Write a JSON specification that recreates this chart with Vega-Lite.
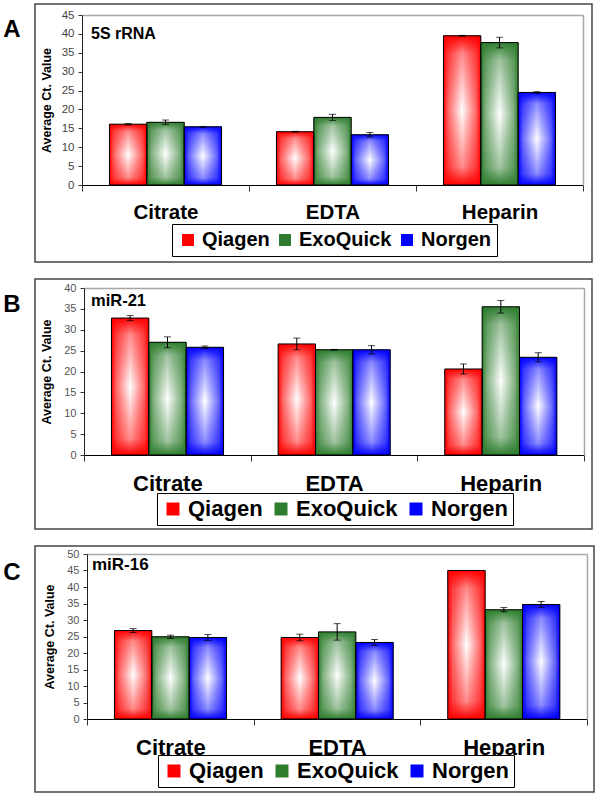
{
  "$schema": "https://vega.github.io/schema/vega-lite/v6.json",
  "background": "white",
  "padding": {"left": 2, "top": 3, "right": 0, "bottom": 0},
  "spacing": 15,
  "config": {
    "font": "Liberation Sans",
    "view": {"stroke": "#444", "strokeWidth": 1.5}
  },
  "resolve": {"scale": {"color": "independent"}, "legend": {"color": "independent"}},
  "datasets": {
    "a": [
      {"group": "Citrate", "method": "Qiagen", "value": 16.1, "lo": 15.9, "hi": 16.3},
      {"group": "Citrate", "method": "ExoQuick", "value": 16.6, "lo": 16.0, "hi": 17.2},
      {"group": "Citrate", "method": "Norgen", "value": 15.4, "lo": 15.3, "hi": 15.5},
      {"group": "EDTA", "method": "Qiagen", "value": 14.1, "lo": 14.0, "hi": 14.2},
      {"group": "EDTA", "method": "ExoQuick", "value": 17.9, "lo": 17.1, "hi": 18.7},
      {"group": "EDTA", "method": "Norgen", "value": 13.3, "lo": 12.7, "hi": 13.9},
      {"group": "Heparin", "method": "Qiagen", "value": 39.5, "lo": 39.4, "hi": 39.6},
      {"group": "Heparin", "method": "ExoQuick", "value": 37.7, "lo": 36.3, "hi": 39.1},
      {"group": "Heparin", "method": "Norgen", "value": 24.5, "lo": 24.3, "hi": 24.7}
    ],
    "b": [
      {"group": "Citrate", "method": "Qiagen", "value": 32.8, "lo": 32.2, "hi": 33.4},
      {"group": "Citrate", "method": "ExoQuick", "value": 27.0, "lo": 25.7, "hi": 28.3},
      {"group": "Citrate", "method": "Norgen", "value": 25.8, "lo": 25.5, "hi": 26.1},
      {"group": "EDTA", "method": "Qiagen", "value": 26.6, "lo": 25.2, "hi": 28.0},
      {"group": "EDTA", "method": "ExoQuick", "value": 25.2, "lo": 25.1, "hi": 25.3},
      {"group": "EDTA", "method": "Norgen", "value": 25.2, "lo": 24.2, "hi": 26.2},
      {"group": "Heparin", "method": "Qiagen", "value": 20.6, "lo": 19.4, "hi": 21.8},
      {"group": "Heparin", "method": "ExoQuick", "value": 35.5, "lo": 34.0, "hi": 37.0},
      {"group": "Heparin", "method": "Norgen", "value": 23.4, "lo": 22.3, "hi": 24.5}
    ],
    "c": [
      {"group": "Citrate", "method": "Qiagen", "value": 26.8, "lo": 26.2, "hi": 27.4},
      {"group": "Citrate", "method": "ExoQuick", "value": 24.9, "lo": 24.4, "hi": 25.4},
      {"group": "Citrate", "method": "Norgen", "value": 24.7, "lo": 23.8, "hi": 25.6},
      {"group": "EDTA", "method": "Qiagen", "value": 24.7, "lo": 23.7, "hi": 25.7},
      {"group": "EDTA", "method": "ExoQuick", "value": 26.4, "lo": 23.9, "hi": 28.9},
      {"group": "EDTA", "method": "Norgen", "value": 23.2, "lo": 22.3, "hi": 24.1},
      {"group": "Heparin", "method": "Qiagen", "value": 45.0, "lo": null, "hi": null},
      {"group": "Heparin", "method": "ExoQuick", "value": 33.1, "lo": 32.5, "hi": 33.8},
      {"group": "Heparin", "method": "Norgen", "value": 34.7, "lo": 33.8, "hi": 35.6}
    ]
  },
  "vconcat": [
    {
      "title": {"text": "A", "orient": "left", "anchor": "end", "angle": 0, "align": "right", "baseline": "top", "fontSize": 24, "fontWeight": "bold", "font": "Liberation Sans", "color": "black", "offset": -3, "dy": 14},
      "width": 557,
      "height": 258,
      "data": {"name": "a"},
      "resolve": {"axis": {"x": "independent", "y": "independent"}},
      "layer": [
        {
          "mark": {"type": "bar"},
          "encoding": {
            "x": {"field": "group", "type": "nominal", "scale": {"domain": ["Citrate", "EDTA", "Heparin"], "range": [47, 548], "paddingInner": 0, "paddingOuter": 0},
              "axis": {"orient": "bottom", "offset": -77, "title": null, "labelAngle": 0, "labelFont": "Liberation Sans", "labelFontSize": 20.5, "labelFontWeight": "bold", "labelColor": "black", "labelPadding": 11.5, "labelBaseline": "top", "tickBand": "extent", "tickSize": 6, "tickColor": "#333", "domainColor": "black", "domainWidth": 1}},
            "xOffset": {"field": "method", "type": "nominal", "scale": {"domain": ["Qiagen", "ExoQuick", "Norgen"], "paddingInner": 0, "paddingOuter": 0.735}},
            "y": {"field": "value", "type": "quantitative", "scale": {"domain": [0, 45], "range": [181, 11], "nice": false},
              "axis": {"orient": "left", "offset": -47, "values": [0, 5, 10, 15, 20, 25, 30, 35, 40, 45], "title": "Average Ct. Value", "titleFont": "Liberation Sans", "titleFontSize": 12.5, "titleFontWeight": "bold", "titleColor": "black", "titlePadding": 8, "labelFont": "Liberation Sans", "labelFontSize": 11.5, "labelColor": "#444", "labelPadding": 4, "tickSize": 4, "tickColor": "#333", "domainColor": "#222", "grid": false}},
            "color": {"field": "method", "type": "nominal", "scale": {"domain": ["Qiagen", "ExoQuick", "Norgen"], "range": ["#ff0000", "#2e7d2e", "#0000ff"]},
              "legend": {"orient": "none", "legendX": 137, "legendY": 220, "direction": "horizontal", "title": null, "labelFont": "Liberation Sans", "labelFontSize": 20, "labelFontWeight": "bold", "labelColor": "black", "symbolType": "square", "symbolSize": 144, "symbolStrokeColor": "black", "symbolStrokeWidth": 1, "symbolOpacity": 1, "strokeColor": "black", "fillColor": "white", "padding": 6, "columnPadding": 5, "labelOffset": 4,
                "encode": {"symbols": {"update": {"fill": {"signal": "datum.value === 'Qiagen' ? {gradient: 'linear', x1: 0, y1: 0, x2: 1, y2: 0, stops: [{offset: 0, color: '#ff0000'}, {offset: 0.5, color: '#ffffff'}, {offset: 1, color: '#ff0000'}]} : datum.value === 'ExoQuick' ? {gradient: 'linear', x1: 0, y1: 0, x2: 1, y2: 0, stops: [{offset: 0, color: '#2e7d2e'}, {offset: 0.5, color: '#ffffff'}, {offset: 1, color: '#2e7d2e'}]} : {gradient: 'linear', x1: 0, y1: 0, x2: 1, y2: 0, stops: [{offset: 0, color: '#0000ff'}, {offset: 0.5, color: '#ffffff'}, {offset: 1, color: '#0000ff'}]}"}}}}}}
          }
        },
        {
          "mark": {"type": "bar"},
          "encoding": {
            "x": {"field": "group", "type": "nominal", "axis": null},
            "xOffset": {"field": "method", "type": "nominal"},
            "y": {"field": "value", "type": "quantitative", "axis": null},
            "fill": {"condition": [
              {"test": "datum.method === 'Qiagen'", "value": {"gradient": "linear", "x1": 0, "y1": 0, "x2": 1, "y2": 0, "stops": [{"offset": 0, "color": "#ff0000"}, {"offset": 0.12, "color": "#ff6666"}, {"offset": 0.5, "color": "#ffffff"}, {"offset": 0.88, "color": "#ff6666"}, {"offset": 1, "color": "#ff0000"}]}},
              {"test": "datum.method === 'ExoQuick'", "value": {"gradient": "linear", "x1": 0, "y1": 0, "x2": 1, "y2": 0, "stops": [{"offset": 0, "color": "#2e7d2e"}, {"offset": 0.12, "color": "#82b182"}, {"offset": 0.5, "color": "#ffffff"}, {"offset": 0.88, "color": "#82b182"}, {"offset": 1, "color": "#2e7d2e"}]}}
            ], "value": {"gradient": "linear", "x1": 0, "y1": 0, "x2": 1, "y2": 0, "stops": [{"offset": 0, "color": "#0000ff"}, {"offset": 0.12, "color": "#6666ff"}, {"offset": 0.5, "color": "#ffffff"}, {"offset": 0.88, "color": "#6666ff"}, {"offset": 1, "color": "#0000ff"}]}}
          }
        },
        {
          "mark": {"type": "bar", "stroke": "black", "strokeWidth": 1},
          "encoding": {
            "x": {"field": "group", "type": "nominal", "axis": {"orient": "top", "offset": -11, "labels": false, "ticks": false, "title": null, "domainColor": "#a6a6a6", "domainWidth": 1.5}},
            "xOffset": {"field": "method", "type": "nominal"},
            "y": {"field": "value", "type": "quantitative", "axis": {"orient": "right", "offset": -9, "labels": false, "ticks": false, "title": null, "grid": false, "domainColor": "#a6a6a6", "domainWidth": 1.5}},
            "fill": {"condition": [
              {"test": "datum.method === 'Qiagen'", "value": {"gradient": "linear", "x1": 0, "y1": 0, "x2": 0, "y2": 1, "stops": [{"offset": 0, "color": "rgba(255,0,0,1)"}, {"offset": 0.12, "color": "rgba(255,0,0,0.45)"}, {"offset": 0.5, "color": "rgba(255,0,0,0)"}, {"offset": 0.88, "color": "rgba(255,0,0,0.45)"}, {"offset": 1, "color": "rgba(255,0,0,1)"}]}},
              {"test": "datum.method === 'ExoQuick'", "value": {"gradient": "linear", "x1": 0, "y1": 0, "x2": 0, "y2": 1, "stops": [{"offset": 0, "color": "rgba(46,125,46,1)"}, {"offset": 0.12, "color": "rgba(46,125,46,0.45)"}, {"offset": 0.5, "color": "rgba(46,125,46,0)"}, {"offset": 0.88, "color": "rgba(46,125,46,0.45)"}, {"offset": 1, "color": "rgba(46,125,46,1)"}]}}
            ], "value": {"gradient": "linear", "x1": 0, "y1": 0, "x2": 0, "y2": 1, "stops": [{"offset": 0, "color": "rgba(0,0,255,1)"}, {"offset": 0.12, "color": "rgba(0,0,255,0.45)"}, {"offset": 0.5, "color": "rgba(0,0,255,0)"}, {"offset": 0.88, "color": "rgba(0,0,255,0.45)"}, {"offset": 1, "color": "rgba(0,0,255,1)"}]}}
          }
        },
        {
          "mark": {"type": "rule", "color": "black", "strokeWidth": 1},
          "encoding": {
            "x": {"field": "group", "type": "nominal", "axis": null},
            "xOffset": {"field": "method", "type": "nominal"},
            "y": {"field": "lo", "type": "quantitative", "axis": null},
            "y2": {"field": "hi"}
          }
        },
        {
          "mark": {"type": "tick", "color": "black", "thickness": 1, "size": 7},
          "encoding": {
            "x": {"field": "group", "type": "nominal", "axis": null},
            "xOffset": {"field": "method", "type": "nominal"},
            "y": {"field": "lo", "type": "quantitative", "axis": null}
          }
        },
        {
          "mark": {"type": "tick", "color": "black", "thickness": 1, "size": 7},
          "encoding": {
            "x": {"field": "group", "type": "nominal", "axis": null},
            "xOffset": {"field": "method", "type": "nominal"},
            "y": {"field": "hi", "type": "quantitative", "axis": null}
          }
        },
        {
          "data": {"values": [{"label": "5S rRNA"}]},
          "mark": {"type": "text", "align": "left", "baseline": "top", "dx": 9, "dy": 11, "fontSize": 16, "fontWeight": "bold", "font": "Liberation Sans", "color": "black"},
          "encoding": {
            "x": {"datum": "Citrate", "bandPosition": 0, "axis": null},
            "y": {"datum": 45, "axis": null},
            "text": {"field": "label"}
          }
        }
      ]
    },
    {
      "title": {"text": "B", "orient": "left", "anchor": "end", "angle": 0, "align": "right", "baseline": "top", "fontSize": 24, "fontWeight": "bold", "font": "Liberation Sans", "color": "black", "offset": -3, "dy": 14},
      "width": 557,
      "height": 250,
      "data": {"name": "b"},
      "resolve": {"axis": {"x": "independent", "y": "independent"}},
      "layer": [
        {
          "mark": {"type": "bar"},
          "encoding": {
            "x": {"field": "group", "type": "nominal", "scale": {"domain": ["Citrate", "EDTA", "Heparin"], "range": [49, 549], "paddingInner": 0, "paddingOuter": 0},
              "axis": {"orient": "bottom", "offset": -74, "title": null, "labelAngle": 0, "labelFont": "Liberation Sans", "labelFontSize": 22, "labelFontWeight": "bold", "labelColor": "black", "labelPadding": 12, "labelBaseline": "top", "tickBand": "extent", "tickSize": 6, "tickColor": "#333", "domainColor": "black", "domainWidth": 1}},
            "xOffset": {"field": "method", "type": "nominal", "scale": {"domain": ["Qiagen", "ExoQuick", "Norgen"], "paddingInner": 0, "paddingOuter": 0.735}},
            "y": {"field": "value", "type": "quantitative", "scale": {"domain": [0, 40], "range": [176, 9], "nice": false},
              "axis": {"orient": "left", "offset": -49, "values": [0, 5, 10, 15, 20, 25, 30, 35, 40], "title": "Average Ct. Value", "titleFont": "Liberation Sans", "titleFontSize": 12.5, "titleFontWeight": "bold", "titleColor": "black", "titlePadding": 10, "labelFont": "Liberation Sans", "labelFontSize": 11, "labelColor": "#555", "labelPadding": 4, "tickSize": 4, "tickColor": "#333", "domainColor": "#222", "grid": false}},
            "color": {"field": "method", "type": "nominal", "scale": {"domain": ["Qiagen", "ExoQuick", "Norgen"], "range": ["#ff0000", "#2e7d2e", "#0000ff"]},
              "legend": {"orient": "none", "legendX": 122, "legendY": 214, "direction": "horizontal", "title": null, "labelFont": "Liberation Sans", "labelFontSize": 22, "labelFontWeight": "bold", "labelColor": "black", "symbolType": "square", "symbolSize": 169, "symbolStrokeColor": "black", "symbolStrokeWidth": 1, "symbolOpacity": 1, "strokeColor": "black", "fillColor": "white", "padding": 5, "columnPadding": 7, "labelOffset": 4,
                "encode": {"symbols": {"update": {"fill": {"signal": "datum.value === 'Qiagen' ? {gradient: 'linear', x1: 0, y1: 0, x2: 1, y2: 0, stops: [{offset: 0, color: '#ff0000'}, {offset: 0.5, color: '#ffffff'}, {offset: 1, color: '#ff0000'}]} : datum.value === 'ExoQuick' ? {gradient: 'linear', x1: 0, y1: 0, x2: 1, y2: 0, stops: [{offset: 0, color: '#2e7d2e'}, {offset: 0.5, color: '#ffffff'}, {offset: 1, color: '#2e7d2e'}]} : {gradient: 'linear', x1: 0, y1: 0, x2: 1, y2: 0, stops: [{offset: 0, color: '#0000ff'}, {offset: 0.5, color: '#ffffff'}, {offset: 1, color: '#0000ff'}]}"}}}}}}
          }
        },
        {
          "mark": {"type": "bar"},
          "encoding": {
            "x": {"field": "group", "type": "nominal", "axis": null},
            "xOffset": {"field": "method", "type": "nominal"},
            "y": {"field": "value", "type": "quantitative", "axis": null},
            "fill": {"condition": [
              {"test": "datum.method === 'Qiagen'", "value": {"gradient": "linear", "x1": 0, "y1": 0, "x2": 1, "y2": 0, "stops": [{"offset": 0, "color": "#ff0000"}, {"offset": 0.12, "color": "#ff6666"}, {"offset": 0.5, "color": "#ffffff"}, {"offset": 0.88, "color": "#ff6666"}, {"offset": 1, "color": "#ff0000"}]}},
              {"test": "datum.method === 'ExoQuick'", "value": {"gradient": "linear", "x1": 0, "y1": 0, "x2": 1, "y2": 0, "stops": [{"offset": 0, "color": "#2e7d2e"}, {"offset": 0.12, "color": "#82b182"}, {"offset": 0.5, "color": "#ffffff"}, {"offset": 0.88, "color": "#82b182"}, {"offset": 1, "color": "#2e7d2e"}]}}
            ], "value": {"gradient": "linear", "x1": 0, "y1": 0, "x2": 1, "y2": 0, "stops": [{"offset": 0, "color": "#0000ff"}, {"offset": 0.12, "color": "#6666ff"}, {"offset": 0.5, "color": "#ffffff"}, {"offset": 0.88, "color": "#6666ff"}, {"offset": 1, "color": "#0000ff"}]}}
          }
        },
        {
          "mark": {"type": "bar", "stroke": "black", "strokeWidth": 1},
          "encoding": {
            "x": {"field": "group", "type": "nominal", "axis": {"orient": "top", "offset": -9, "labels": false, "ticks": false, "title": null, "domainColor": "#a6a6a6", "domainWidth": 1.5}},
            "xOffset": {"field": "method", "type": "nominal"},
            "y": {"field": "value", "type": "quantitative", "axis": {"orient": "right", "offset": -8, "labels": false, "ticks": false, "title": null, "grid": false, "domainColor": "#a6a6a6", "domainWidth": 1.5}},
            "fill": {"condition": [
              {"test": "datum.method === 'Qiagen'", "value": {"gradient": "linear", "x1": 0, "y1": 0, "x2": 0, "y2": 1, "stops": [{"offset": 0, "color": "rgba(255,0,0,1)"}, {"offset": 0.12, "color": "rgba(255,0,0,0.45)"}, {"offset": 0.5, "color": "rgba(255,0,0,0)"}, {"offset": 0.88, "color": "rgba(255,0,0,0.45)"}, {"offset": 1, "color": "rgba(255,0,0,1)"}]}},
              {"test": "datum.method === 'ExoQuick'", "value": {"gradient": "linear", "x1": 0, "y1": 0, "x2": 0, "y2": 1, "stops": [{"offset": 0, "color": "rgba(46,125,46,1)"}, {"offset": 0.12, "color": "rgba(46,125,46,0.45)"}, {"offset": 0.5, "color": "rgba(46,125,46,0)"}, {"offset": 0.88, "color": "rgba(46,125,46,0.45)"}, {"offset": 1, "color": "rgba(46,125,46,1)"}]}}
            ], "value": {"gradient": "linear", "x1": 0, "y1": 0, "x2": 0, "y2": 1, "stops": [{"offset": 0, "color": "rgba(0,0,255,1)"}, {"offset": 0.12, "color": "rgba(0,0,255,0.45)"}, {"offset": 0.5, "color": "rgba(0,0,255,0)"}, {"offset": 0.88, "color": "rgba(0,0,255,0.45)"}, {"offset": 1, "color": "rgba(0,0,255,1)"}]}}
          }
        },
        {
          "mark": {"type": "rule", "color": "black", "strokeWidth": 1},
          "encoding": {
            "x": {"field": "group", "type": "nominal", "axis": null},
            "xOffset": {"field": "method", "type": "nominal"},
            "y": {"field": "lo", "type": "quantitative", "axis": null},
            "y2": {"field": "hi"}
          }
        },
        {
          "mark": {"type": "tick", "color": "black", "thickness": 1, "size": 7},
          "encoding": {
            "x": {"field": "group", "type": "nominal", "axis": null},
            "xOffset": {"field": "method", "type": "nominal"},
            "y": {"field": "lo", "type": "quantitative", "axis": null}
          }
        },
        {
          "mark": {"type": "tick", "color": "black", "thickness": 1, "size": 7},
          "encoding": {
            "x": {"field": "group", "type": "nominal", "axis": null},
            "xOffset": {"field": "method", "type": "nominal"},
            "y": {"field": "hi", "type": "quantitative", "axis": null}
          }
        },
        {
          "data": {"values": [{"label": "miR-21"}]},
          "mark": {"type": "text", "align": "left", "baseline": "top", "dx": 7, "dy": 5, "fontSize": 16.5, "fontWeight": "bold", "font": "Liberation Sans", "color": "black"},
          "encoding": {
            "x": {"datum": "Citrate", "bandPosition": 0, "axis": null},
            "y": {"datum": 40, "axis": null},
            "text": {"field": "label"}
          }
        }
      ]
    },
    {
      "title": {"text": "C", "orient": "left", "anchor": "end", "angle": 0, "align": "right", "baseline": "top", "fontSize": 24, "fontWeight": "bold", "font": "Liberation Sans", "color": "black", "offset": -3, "dy": 15},
      "width": 559,
      "height": 246,
      "data": {"name": "c"},
      "resolve": {"axis": {"x": "independent", "y": "independent"}},
      "layer": [
        {
          "mark": {"type": "bar"},
          "encoding": {
            "x": {"field": "group", "type": "nominal", "scale": {"domain": ["Citrate", "EDTA", "Heparin"], "range": [52, 552], "paddingInner": 0, "paddingOuter": 0},
              "axis": {"orient": "bottom", "offset": -73, "title": null, "labelAngle": 0, "labelFont": "Liberation Sans", "labelFontSize": 22, "labelFontWeight": "bold", "labelColor": "black", "labelPadding": 12, "labelBaseline": "top", "tickBand": "extent", "tickSize": 6, "tickColor": "#333", "domainColor": "black", "domainWidth": 1}},
            "xOffset": {"field": "method", "type": "nominal", "scale": {"domain": ["Qiagen", "ExoQuick", "Norgen"], "paddingInner": 0, "paddingOuter": 0.735}},
            "y": {"field": "value", "type": "quantitative", "scale": {"domain": [0, 50], "range": [173, 8], "nice": false},
              "axis": {"orient": "left", "offset": -52, "values": [0, 5, 10, 15, 20, 25, 30, 35, 40, 45, 50], "title": "Average Ct. Value", "titleFont": "Liberation Sans", "titleFontSize": 12.5, "titleFontWeight": "bold", "titleColor": "black", "titlePadding": 10, "labelFont": "Liberation Sans", "labelFontSize": 11, "labelColor": "#555", "labelPadding": 4, "tickSize": 4, "tickColor": "#333", "domainColor": "#222", "grid": false}},
            "color": {"field": "method", "type": "nominal", "scale": {"domain": ["Qiagen", "ExoQuick", "Norgen"], "range": ["#ff0000", "#2e7d2e", "#0000ff"]},
              "legend": {"orient": "none", "legendX": 123, "legendY": 209, "direction": "horizontal", "title": null, "labelFont": "Liberation Sans", "labelFontSize": 22, "labelFontWeight": "bold", "labelColor": "black", "symbolType": "square", "symbolSize": 169, "symbolStrokeColor": "black", "symbolStrokeWidth": 1, "symbolOpacity": 1, "strokeColor": "black", "fillColor": "white", "padding": 5, "columnPadding": 7, "labelOffset": 4,
                "encode": {"symbols": {"update": {"fill": {"signal": "datum.value === 'Qiagen' ? {gradient: 'linear', x1: 0, y1: 0, x2: 1, y2: 0, stops: [{offset: 0, color: '#ff0000'}, {offset: 0.5, color: '#ffffff'}, {offset: 1, color: '#ff0000'}]} : datum.value === 'ExoQuick' ? {gradient: 'linear', x1: 0, y1: 0, x2: 1, y2: 0, stops: [{offset: 0, color: '#2e7d2e'}, {offset: 0.5, color: '#ffffff'}, {offset: 1, color: '#2e7d2e'}]} : {gradient: 'linear', x1: 0, y1: 0, x2: 1, y2: 0, stops: [{offset: 0, color: '#0000ff'}, {offset: 0.5, color: '#ffffff'}, {offset: 1, color: '#0000ff'}]}"}}}}}}
          }
        },
        {
          "mark": {"type": "bar"},
          "encoding": {
            "x": {"field": "group", "type": "nominal", "axis": null},
            "xOffset": {"field": "method", "type": "nominal"},
            "y": {"field": "value", "type": "quantitative", "axis": null},
            "fill": {"condition": [
              {"test": "datum.method === 'Qiagen'", "value": {"gradient": "linear", "x1": 0, "y1": 0, "x2": 1, "y2": 0, "stops": [{"offset": 0, "color": "#ff0000"}, {"offset": 0.12, "color": "#ff6666"}, {"offset": 0.5, "color": "#ffffff"}, {"offset": 0.88, "color": "#ff6666"}, {"offset": 1, "color": "#ff0000"}]}},
              {"test": "datum.method === 'ExoQuick'", "value": {"gradient": "linear", "x1": 0, "y1": 0, "x2": 1, "y2": 0, "stops": [{"offset": 0, "color": "#2e7d2e"}, {"offset": 0.12, "color": "#82b182"}, {"offset": 0.5, "color": "#ffffff"}, {"offset": 0.88, "color": "#82b182"}, {"offset": 1, "color": "#2e7d2e"}]}}
            ], "value": {"gradient": "linear", "x1": 0, "y1": 0, "x2": 1, "y2": 0, "stops": [{"offset": 0, "color": "#0000ff"}, {"offset": 0.12, "color": "#6666ff"}, {"offset": 0.5, "color": "#ffffff"}, {"offset": 0.88, "color": "#6666ff"}, {"offset": 1, "color": "#0000ff"}]}}
          }
        },
        {
          "mark": {"type": "bar", "stroke": "black", "strokeWidth": 1},
          "encoding": {
            "x": {"field": "group", "type": "nominal", "axis": {"orient": "top", "offset": -8, "labels": false, "ticks": false, "title": null, "domainColor": "#a6a6a6", "domainWidth": 1.5}},
            "xOffset": {"field": "method", "type": "nominal"},
            "y": {"field": "value", "type": "quantitative", "axis": {"orient": "right", "offset": -7, "labels": false, "ticks": false, "title": null, "grid": false, "domainColor": "#a6a6a6", "domainWidth": 1.5}},
            "fill": {"condition": [
              {"test": "datum.method === 'Qiagen'", "value": {"gradient": "linear", "x1": 0, "y1": 0, "x2": 0, "y2": 1, "stops": [{"offset": 0, "color": "rgba(255,0,0,1)"}, {"offset": 0.12, "color": "rgba(255,0,0,0.45)"}, {"offset": 0.5, "color": "rgba(255,0,0,0)"}, {"offset": 0.88, "color": "rgba(255,0,0,0.45)"}, {"offset": 1, "color": "rgba(255,0,0,1)"}]}},
              {"test": "datum.method === 'ExoQuick'", "value": {"gradient": "linear", "x1": 0, "y1": 0, "x2": 0, "y2": 1, "stops": [{"offset": 0, "color": "rgba(46,125,46,1)"}, {"offset": 0.12, "color": "rgba(46,125,46,0.45)"}, {"offset": 0.5, "color": "rgba(46,125,46,0)"}, {"offset": 0.88, "color": "rgba(46,125,46,0.45)"}, {"offset": 1, "color": "rgba(46,125,46,1)"}]}}
            ], "value": {"gradient": "linear", "x1": 0, "y1": 0, "x2": 0, "y2": 1, "stops": [{"offset": 0, "color": "rgba(0,0,255,1)"}, {"offset": 0.12, "color": "rgba(0,0,255,0.45)"}, {"offset": 0.5, "color": "rgba(0,0,255,0)"}, {"offset": 0.88, "color": "rgba(0,0,255,0.45)"}, {"offset": 1, "color": "rgba(0,0,255,1)"}]}}
          }
        },
        {
          "mark": {"type": "rule", "color": "black", "strokeWidth": 1},
          "encoding": {
            "x": {"field": "group", "type": "nominal", "axis": null},
            "xOffset": {"field": "method", "type": "nominal"},
            "y": {"field": "lo", "type": "quantitative", "axis": null},
            "y2": {"field": "hi"}
          }
        },
        {
          "mark": {"type": "tick", "color": "black", "thickness": 1, "size": 7},
          "encoding": {
            "x": {"field": "group", "type": "nominal", "axis": null},
            "xOffset": {"field": "method", "type": "nominal"},
            "y": {"field": "lo", "type": "quantitative", "axis": null}
          }
        },
        {
          "mark": {"type": "tick", "color": "black", "thickness": 1, "size": 7},
          "encoding": {
            "x": {"field": "group", "type": "nominal", "axis": null},
            "xOffset": {"field": "method", "type": "nominal"},
            "y": {"field": "hi", "type": "quantitative", "axis": null}
          }
        },
        {
          "data": {"values": [{"label": "miR-16"}]},
          "mark": {"type": "text", "align": "left", "baseline": "top", "dx": 5, "dy": 3, "fontSize": 17, "fontWeight": "bold", "font": "Liberation Sans", "color": "black"},
          "encoding": {
            "x": {"datum": "Citrate", "bandPosition": 0, "axis": null},
            "y": {"datum": 50, "axis": null},
            "text": {"field": "label"}
          }
        }
      ]
    }
  ]
}
